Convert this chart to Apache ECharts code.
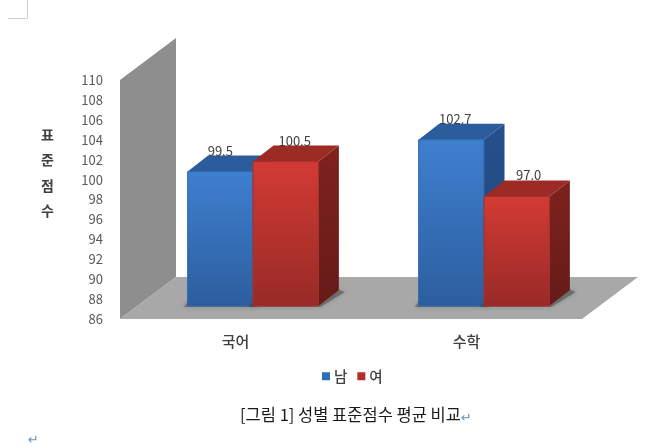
<!DOCTYPE html>
<html><head><meta charset="utf-8">
<style>html,body{margin:0;padding:0;background:#fff}#c{width:659px;height:446px}</style>
<script src="https://cdn.jsdelivr.net/npm/echarts@6/dist/echarts.min.js"></script>
</head><body><div id="c"></div>
<script>
const categories = ['국어', '수학'];
const maleScores = [99.5, 102.7];
const femaleScores = [100.5, 97.0];
const axisMin = 86, axisMax = 110, axisStep = 2;
const seriesNames = ['남', '여'];
const caption = '[그림 1] 성별 표준점수 평균 비교';
const axisTitle = '표\n준\n점\n수';

const FONT = '"Noto Sans CJK KR","Open Sans",sans-serif';
const chart = echarts.init(document.getElementById('c'), null, {renderer:'canvas'});
const vg = (a,b)=>new echarts.graphic.LinearGradient(0,0,0,1,[{offset:0,color:a},{offset:1,color:b}]);
const WALL = {dx:56, dy:42}, BARSHIFT = {dx:18, dy:13}, BARDEPTH = {dx:20.5, dy:16};

function renderBack(params, api){
  const half = api.size([1,0])[0]/2;
  const lb = api.coord([0, axisMin]), lt = api.coord([0, axisMax]);
  const rb = api.coord([1, axisMin]);
  const x0 = lb[0]-half, x1 = rb[0]+half, yb = lb[1], yt = lt[1];
  const d = WALL;
  return {type:'group', silent:true, children:[
    {type:'polygon', shape:{points:[[x0,yt],[x0+d.dx,yt-d.dy],[x0+d.dx,yb-d.dy],[x0,yb]]},
     style:{fill:'#8e8e8e'}},
    {type:'polygon', shape:{points:[[x0,yb],[x0+d.dx,yb-d.dy],[x1+d.dx,yb-d.dy],[x1,yb]]},
     style:{fill:'#a8a8a8'}}
  ]};
}
function barRenderer(side, c){
  return function(params, api){
    const i = api.value(0), v = api.value(1);
    const band = api.size([1,0])[0], w = band*0.283;
    const p = api.coord([i, v]), b = api.coord([i, axisMin]);
    const cx = p[0]+BARSHIFT.dx-0.5;
    const x0 = side===0 ? cx-w : cx, x1 = x0+w;
    const yt = p[1]-BARSHIFT.dy, yb = b[1]-BARSHIFT.dy;
    const D = BARDEPTH;
    return {type:'group', children:[
      {type:'polygon', shape:{points:[[x0-4,yb+1],[x1+2,yb+1],[x1+D.dx+6,yb-D.dy+2],[x1+D.dx-4,yb-D.dy-2],[x0,yb-4]]},
       style:{fill:'rgba(60,60,60,0.45)', shadowBlur:5, shadowColor:'rgba(50,50,50,0.55)'}},
      {type:'polygon', shape:{points:[[x1,yt],[x1+D.dx,yt-D.dy],[x1+D.dx,yb-D.dy],[x1,yb]]},
       style:{fill:vg(c.side0,c.side1)}},
      {type:'polygon', shape:{points:[[x0,yt],[x0+D.dx,yt-D.dy],[x1+D.dx,yt-D.dy],[x1,yt]]},
       style:{fill:c.top}},
      {type:'rect', shape:{x:x0,y:yt,width:w,height:yb-yt},
       style:{fill:vg(c.front0,c.front1), stroke:c.edge, lineWidth:1}},
      {type:'text', x:(x0+x1)/2+c.labelDx[i], y:yt-21,
       style:{text:v.toFixed(1), fill:'#404040', font:'13px '+FONT, align:'center', verticalAlign:'middle'}}
    ]};
  };
}
const blue = {front0:'#3f7fd0', front1:'#2c5e9e', side0:'#25508d', side1:'#1f4679', top:'#2b5c9c', edge:'#2f68ad', labelDx:[0,4]};
const red  = {front0:'#d33b34', front1:'#982a27', side0:'#7f221e', side1:'#651b18', top:'#9c2a25', edge:'#a52e2a', labelDx:[9,12]};
const toPairs = arr => arr.map((v,i)=>[i,v]);

chart.setOption({
  animation:false,
  backgroundColor:'#fff',
  grid:{left:120, right:77, top:80, bottom:127},
  xAxis:{type:'category', data:categories, axisLine:{show:false}, axisTick:{show:false},
    axisLabel:{margin:15, color:'#404040', fontFamily:FONT, fontSize:15, fontWeight:500}},
  yAxis:{type:'value', min:axisMin, max:axisMax, interval:axisStep,
    axisLine:{show:false}, axisTick:{show:false}, splitLine:{show:false},
    axisLabel:{margin:17, color:'#595959', fontFamily:FONT, fontSize:13}},
  legend:{show:true, left:317, top:364, itemWidth:8, itemHeight:8, itemGap:10, icon:'rect',
    data:seriesNames, selectedMode:false,
    textStyle:{color:'#404040', fontFamily:FONT, fontSize:14.5, fontWeight:500, padding:[0,0,0,-1]}},
  series:[
    {type:'custom', name:'back', z:1, silent:true, data:[[0,axisMin]], encode:{x:0,y:1}, renderItem:renderBack},
    {type:'custom', name:seriesNames[0], z:2, data:toPairs(maleScores), encode:{x:0,y:1},
     itemStyle:{color:'#2f6fb8'}, renderItem:barRenderer(0,blue)},
    {type:'custom', name:seriesNames[1], z:3, data:toPairs(femaleScores), encode:{x:0,y:1},
     itemStyle:{color:'#b52f2a'}, renderItem:barRenderer(1,red)}
  ],
  graphic:[
    {type:'text', left:41, top:122, style:{text:axisTitle, fill:'#404040', font:'bold 14px '+FONT, lineHeight:25.4, align:'center'}},
    {type:'text', left:240, top:406, style:{text:caption, fill:'#1a1a1a', font:'16.5px "Noto Sans CJK KR"'}},
    {type:'text', left:461, top:412, style:{text:'↵', fill:'#6f8fc0', font:'13px "DejaVu Sans"'}},
    {type:'text', left:28, top:434, style:{text:'↵', fill:'#6f8fc0', font:'13px "DejaVu Sans"'}},
    {type:'line', shape:{x1:27.5,y1:0,x2:27.5,y2:18.5}, style:{stroke:'#d0d0d0',lineWidth:1}},
    {type:'line', shape:{x1:8,y1:18.5,x2:27.5,y2:18.5}, style:{stroke:'#d0d0d0',lineWidth:1}}
  ]
});
</script></body></html>
